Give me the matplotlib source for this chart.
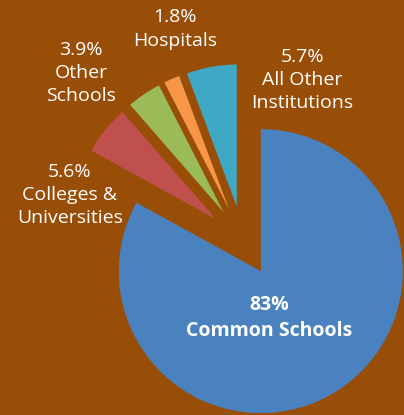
import matplotlib
matplotlib.use("Agg")
import matplotlib.pyplot as plt

categories = ["All Other\nInstitutions", "Hospitals", "Other\nSchools", "Colleges &\nUniversities", "Common Schools"]
shares = [5.7, 1.8, 3.9, 5.6, 83.0]
share_labels = ["5.7%", "1.8%", "3.9%", "5.6%", "83%"]
colors = ["#3fa9c5", "#f79646", "#9bbb59", "#c0504d", "#4a81bf"]
bg = "#994e08"

W, H = 404, 415
fig = plt.figure(figsize=(W / 100, H / 100), dpi=100, facecolor=bg)
ax = fig.add_axes([0, 0, 1, 1])
ax.set_facecolor(bg)

R = 142
ax.pie(shares, colors=colors, startangle=90, counterclock=True,
       center=(243, H - 241), radius=R, explode=[35] * len(shares),
       wedgeprops=dict(linewidth=0), frame=True)
ax.set_xlim(0, W)
ax.set_ylim(0, H)
ax.set_aspect("equal")
ax.axis("off")

font = "Open Sans"
label_pos = [(302, 80), (175, 29), (81, 73), (70, 195)]
for i, (x, y) in enumerate(label_pos):
    ax.text(x, H - y, share_labels[i] + "\n" + categories[i], ha="center", va="center",
            color="white", fontsize=14, family=font, linespacing=1.38)
ax.text(269, H - 318, share_labels[4] + "\n" + categories[4], ha="center", va="center",
        color="white", fontsize=14, family=font, fontweight="bold", linespacing=1.38)

fig.savefig("out.png", dpi=100, facecolor=bg)
